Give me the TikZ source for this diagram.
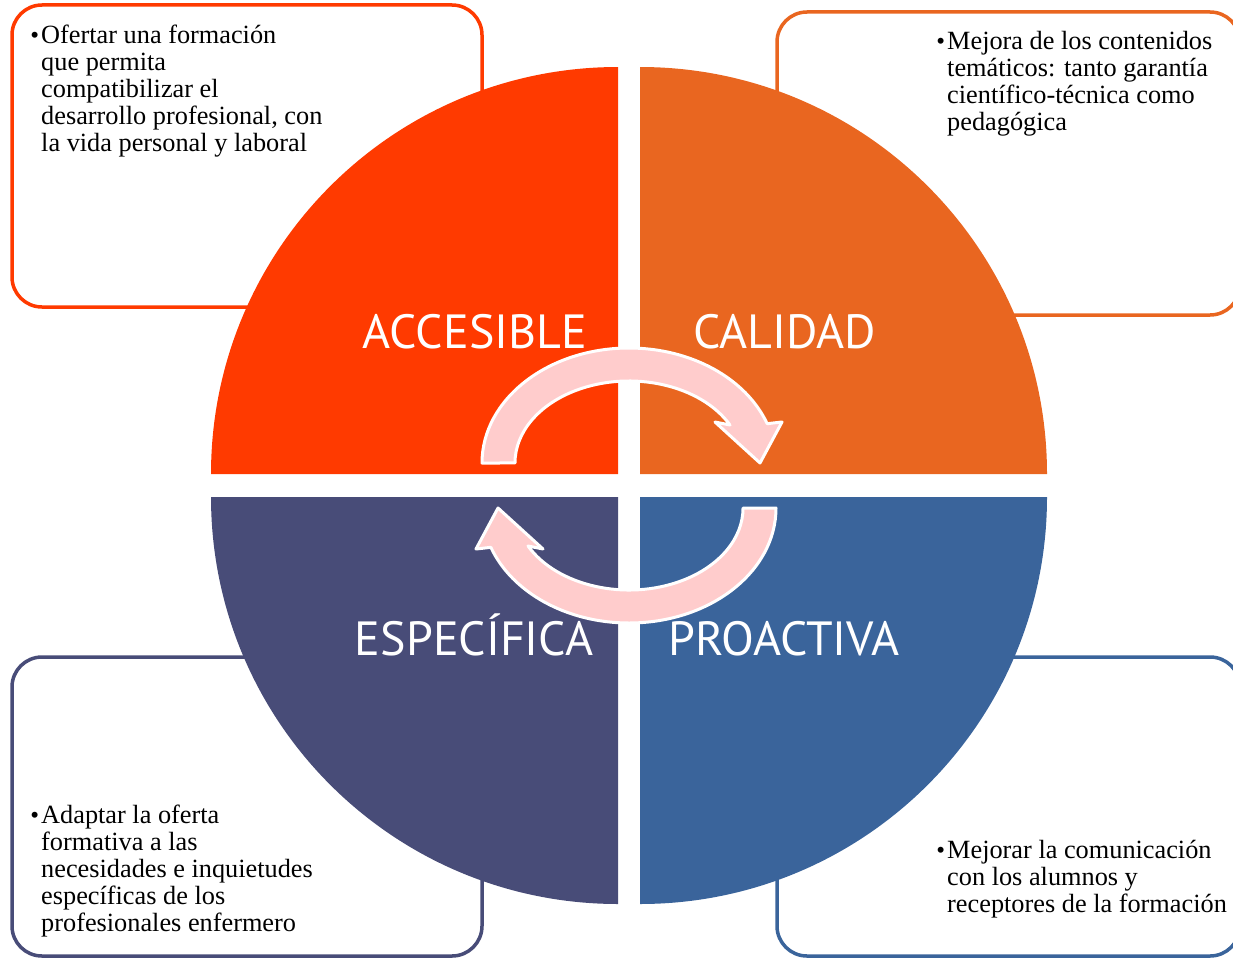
\documentclass[tikz,border=0pt]{standalone}
\usepackage{fontspec}
\setmainfont{Liberation Serif}
\newfontfamily\titlefont{PT Sans}
\definecolor{accred}{RGB}{255,58,0}
\definecolor{calorange}{RGB}{233,102,32}
\definecolor{espblue}{RGB}{72,76,120}
\definecolor{problue}{RGB}{58,100,155}
\definecolor{arrowpink}{RGB}{255,204,204}
\newcommand{\bul}{\llap{{\fontsize{25}{25}\selectfont\textbullet}\hspace{2pt}}}
\begin{document}
\begin{tikzpicture}[x=1pt,y=-1pt, line join=round,
	box/.style={line width=3.5pt, rounded corners=30pt},
	title/.style={font=\titlefont\fontsize{48}{58}\selectfont, text=white, inner sep=0pt, anchor=base},
	bullets/.style={font=\fontsize{26.3}{27}\selectfont, align=left, anchor=north west, inner sep=0pt},
	turn/.style={fill=arrowpink, draw=white, line width=3pt}]
	\useasboundingbox (0,0) rectangle (1233,958);
	% side boxes
	\draw[box, draw=accred] (12,5) rectangle (482,307);
	\draw[box, draw=calorange] (777,12) rectangle (1240,315);
	\draw[box, draw=espblue] (12,657) rectangle (482,956);
	\draw[box, draw=problue] (777,657) rectangle (1240,956);
	% four quarters of the circle
	\foreach \c/\x/\y/\a in {accred/618/474/180, calorange/640/474/270, problue/640/497/0, espblue/618/497/90}
	{
		\fill[\c] (\x,\y) -- ++(\a:407) arc[start angle=\a, delta angle=90, radius=407] -- cycle;
	}
	% titles
	\node[title] (acc) at (475,348) {ACCESIBLE};
	\node[title] (cal) at (785,348) {CALIDAD};
	\node[title] (esp) at (474,655) {ESPECÍFICA};
	\node[title] (pro) at (784,655) {PROACTIVA};
	% turning arrows
	\foreach \r in {0,180}
	{
		\draw[turn, rotate around={\r:(629,485.5)}] (482,463)
			arc[start angle=180, end angle=340, x radius=147, y radius=115]
			-- (782,422) -- (760,463) -- (715,422) -- (730,425)
			arc[start angle=332.4, end angle=180, x radius=114, y radius=82] -- cycle;
	}
	% texts
	\node[bullets] (acctext) at (41,25) {\bul Ofertar una formación\\que permita\\compatibilizar el\\desarrollo profesional, con\\la vida personal y laboral};
	\node[bullets] (caltext) at (947,31) {\bul Mejora de los contenidos\\temáticos: tanto garantía\\científico-técnica como\\pedagógica};
	\node[bullets] (esptext) at (41,805) {\bul Adaptar la oferta\\formativa a las\\necesidades e inquietudes\\específicas de los\\profesionales enfermero};
	\node[bullets] (protext) at (947,840) {\bul Mejorar la comunicación\\con los alumnos y\\receptores de la formación};
\end{tikzpicture}
\end{document}
